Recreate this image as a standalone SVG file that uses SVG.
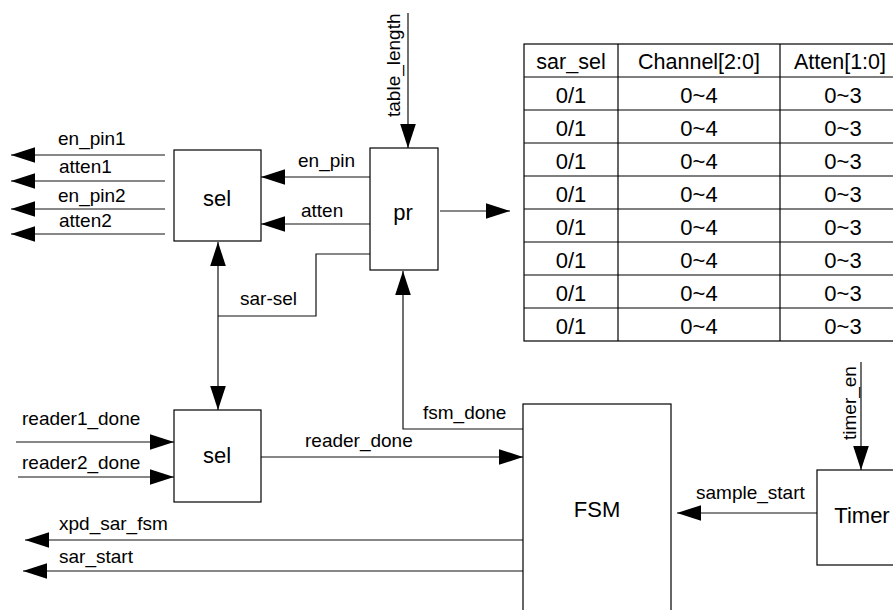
<svg xmlns="http://www.w3.org/2000/svg" width="893" height="610" viewBox="0 0 893 610">
<style>
text{font-family:"Liberation Sans",Arial,sans-serif;fill:#000}
.lbl{font-size:19px}
.blk{font-size:22px;text-anchor:middle}
.th{font-size:21.5px;text-anchor:middle}
.td{font-size:22px;text-anchor:middle}
.box{fill:#fff;stroke:#000;stroke-width:1.2}
.w{fill:none;stroke:#111;stroke-width:1.2}
.grid{fill:none;stroke:#000;stroke-width:1.2}
</style>
<defs>
<marker id="ah" markerUnits="userSpaceOnUse" markerWidth="24" markerHeight="16" viewBox="0 0 23 15" refX="23" refY="7.5" orient="auto-start-reverse">
<path d="M0,0 L23,7.5 L0,15 z" fill="#000"/>
</marker>
</defs>
<rect width="893" height="610" fill="#fff"/>

<g id="connectors">
<line class="w" x1="165" y1="155" x2="11" y2="155" marker-end="url(#ah)"/>
<line class="w" x1="165" y1="181" x2="11" y2="181" marker-end="url(#ah)"/>
<line class="w" x1="165" y1="209" x2="11" y2="209" marker-end="url(#ah)"/>
<line class="w" x1="165" y1="234" x2="11" y2="234" marker-end="url(#ah)"/>
<line class="w" x1="370" y1="177" x2="261" y2="177" marker-end="url(#ah)"/>
<line class="w" x1="370" y1="224" x2="261" y2="224" marker-end="url(#ah)"/>
<line class="w" x1="408" y1="13" x2="408" y2="148" marker-end="url(#ah)"/>
<line class="w" x1="440" y1="211" x2="510" y2="211" marker-end="url(#ah)"/>
<polyline class="w" points="370,254 316,254 316,316 218,316"/>
<line class="w" x1="218" y1="242" x2="218" y2="410" marker-start="url(#ah)" marker-end="url(#ah)"/>
<line class="w" x1="16" y1="442" x2="174" y2="442" marker-end="url(#ah)"/>
<line class="w" x1="18" y1="477" x2="174" y2="477" marker-end="url(#ah)"/>
<line class="w" x1="261" y1="457" x2="523" y2="457" marker-end="url(#ah)"/>
<polyline class="w" points="523,429 403,429 403,271" marker-end="url(#ah)"/>
<line class="w" x1="523" y1="540" x2="25" y2="540" marker-end="url(#ah)"/>
<line class="w" x1="523" y1="571" x2="23" y2="571" marker-end="url(#ah)"/>
<line class="w" x1="861" y1="362" x2="861" y2="470" marker-end="url(#ah)"/>
<line class="w" x1="817" y1="513" x2="677" y2="513" marker-end="url(#ah)"/>

<text class="lbl" x="58" y="145">en_pin1</text>
<text class="lbl" x="59" y="173">atten1</text>
<text class="lbl" x="58" y="202">en_pin2</text>
<text class="lbl" x="59" y="227">atten2</text>
<text class="lbl" x="298" y="167">en_pin</text>
<text class="lbl" x="301" y="217">atten</text>
<text class="lbl" transform="translate(400,117) rotate(-90)">table_length</text>
<text class="lbl" x="240" y="305">sar-sel</text>
<text class="lbl" x="22" y="425">reader1_done</text>
<text class="lbl" x="22" y="469">reader2_done</text>
<text class="lbl" x="305" y="447">reader_done</text>
<text class="lbl" x="423" y="419">fsm_done</text>
<text class="lbl" x="59" y="530">xpd_sar_fsm</text>
<text class="lbl" x="59" y="563">sar_start</text>
<text class="lbl" x="696" y="499">sample_start</text>
<text class="lbl" transform="translate(856,440) rotate(-90)">timer_en</text>
</g>

<g id="sel1">
<rect class="box" x="174" y="150" width="87" height="91"/>
<text class="blk" x="217" y="206">sel</text>
</g>
<g id="pr">
<rect class="box" x="370" y="148" width="68" height="122"/>
<text class="blk" x="403" y="220">pr</text>
</g>
<g id="sel2">
<rect class="box" x="174" y="410" width="87" height="92"/>
<text class="blk" x="217" y="463">sel</text>
</g>
<g id="fsm">
<rect class="box" x="523" y="404" width="148" height="220"/>
<text class="blk" x="597" y="517">FSM</text>
</g>
<g id="timer">
<rect class="box" x="817" y="470" width="90" height="95"/>
<text class="blk" x="862" y="523">Timer</text>
</g>

<g id="table">
<rect class="grid" x="524" y="44" width="390" height="297"/>
<line class="grid" x1="618" y1="44" x2="618" y2="341"/>
<line class="grid" x1="780" y1="44" x2="780" y2="341"/>
<line class="grid" x1="524" y1="77" x2="893" y2="77"/>
<line class="grid" x1="524" y1="110" x2="893" y2="110"/>
<line class="grid" x1="524" y1="143" x2="893" y2="143"/>
<line class="grid" x1="524" y1="176" x2="893" y2="176"/>
<line class="grid" x1="524" y1="209" x2="893" y2="209"/>
<line class="grid" x1="524" y1="242" x2="893" y2="242"/>
<line class="grid" x1="524" y1="275" x2="893" y2="275"/>
<line class="grid" x1="524" y1="308" x2="893" y2="308"/>
<text class="th" x="571" y="69">sar_sel</text>
<text class="th" x="699" y="69">Channel[2:0]</text>
<text class="th" x="840" y="69">Atten[1:0]</text>
<text class="td" x="571" y="103">0/1</text><text class="td" x="699" y="103">0~4</text><text class="td" x="843" y="103">0~3</text>
<text class="td" x="571" y="136">0/1</text><text class="td" x="699" y="136">0~4</text><text class="td" x="843" y="136">0~3</text>
<text class="td" x="571" y="169">0/1</text><text class="td" x="699" y="169">0~4</text><text class="td" x="843" y="169">0~3</text>
<text class="td" x="571" y="202">0/1</text><text class="td" x="699" y="202">0~4</text><text class="td" x="843" y="202">0~3</text>
<text class="td" x="571" y="235">0/1</text><text class="td" x="699" y="235">0~4</text><text class="td" x="843" y="235">0~3</text>
<text class="td" x="571" y="268">0/1</text><text class="td" x="699" y="268">0~4</text><text class="td" x="843" y="268">0~3</text>
<text class="td" x="571" y="301">0/1</text><text class="td" x="699" y="301">0~4</text><text class="td" x="843" y="301">0~3</text>
<text class="td" x="571" y="334">0/1</text><text class="td" x="699" y="334">0~4</text><text class="td" x="843" y="334">0~3</text>
</g>
</svg>
